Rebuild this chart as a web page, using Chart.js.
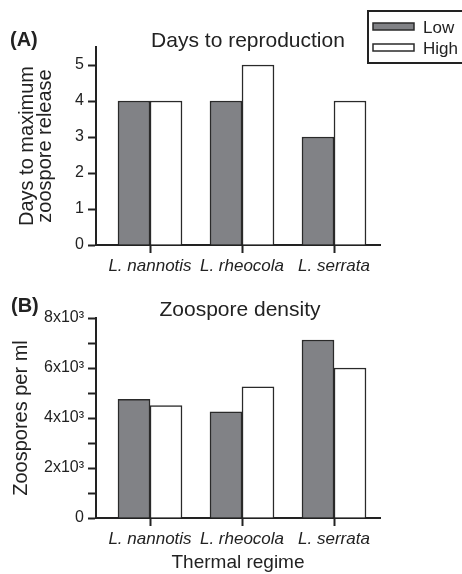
<!DOCTYPE html>
<html><head><meta charset="utf-8">
<script src="https://cdn.jsdelivr.net/npm/chart.js@4.4.0/dist/chart.umd.min.js"></script>
<style>
html,body{margin:0;padding:0;background:#fff;}
#wrap{position:relative;width:462px;height:574px;overflow:hidden;background:#fff;}
canvas{position:absolute;left:0;}
#cA{top:0;width:462px;height:290px;}
#cB{top:290px;width:462px;height:284px;}
</style></head><body>
<div id="wrap"><canvas id="cA" width="462" height="290"></canvas><canvas id="cB" width="462" height="284"></canvas></div>
<script>
// ---- data ----
const categories = ['L. nannotis', 'L. rheocola', 'L. serrata'];
const seriesNames = ['Low', 'High'];
const daysLow = [4, 4, 3];
const daysHigh = [4, 5, 4];
const densityLow = [4750, 4250, 7120];
const densityHigh = [4500, 5250, 6000];
const daysTicks = [0, 1, 2, 3, 4, 5];
const daysTickLabels = ['0', '1', '2', '3', '4', '5'];
const densityTicks = [0, 1000, 2000, 3000, 4000, 5000, 6000, 7000, 8000];
const densityTickLabels = ['0', '', '2x10³', '', '4x10³', '', '6x10³', '', '8x10³'];

// ---- styles ----
const FONT = "'Liberation Sans', Arial, Helvetica, sans-serif";
const INK = '#222';
const GRAY = '#818286';
const EDGE = '#2a2a2a';

function toPoints(vals) { return vals.map((v, i) => ({x: i, y: v})); }

const decorPlugin = {
  id: 'decor',
  afterDraw(chart, args, opts) {
    const ctx = chart.ctx;
    ctx.save();
    ctx.fillStyle = INK;
    ctx.textBaseline = 'alphabetic';
    ctx.font = 'bold 20px ' + FONT;
    ctx.textAlign = 'left';
    ctx.fillText(opts.letter, opts.letterX, opts.letterY);
    ctx.font = '21px ' + FONT;
    ctx.textAlign = 'center';
    ctx.fillText(opts.title, opts.titleX, opts.titleY);
    if (opts.legend) {
      const L = opts.legend;
      ctx.lineWidth = 2;
      ctx.strokeStyle = INK;
      ctx.strokeRect(L.x, L.y, L.w, L.h);
      ctx.font = '17px ' + FONT;
      ctx.textAlign = 'left';
      chart.data.datasets.forEach((ds, i) => {
        const sy = L.y + L.rowY[i];
        ctx.fillStyle = ds.backgroundColor;
        ctx.fillRect(L.x + 5, sy, 41, 7);
        ctx.lineWidth = 1.5;
        ctx.strokeStyle = EDGE;
        ctx.strokeRect(L.x + 5, sy, 41, 7);
        ctx.fillStyle = INK;
        ctx.fillText(ds.label, L.x + 55, sy + 10);
      });
    }
    ctx.restore();
  }
};

function makeChart(canvasId, low, high, yMax, yTicks, yTickLabels, yTitle, cfg) {
  const H = cfg.height;
  return new Chart(document.getElementById(canvasId), {
    type: 'bar',
    data: {
      datasets: [
        {label: seriesNames[0], data: toPoints(low), backgroundColor: GRAY, borderColor: EDGE, borderWidth: 1.5, borderSkipped: 'bottom', barThickness: 32},
        {label: seriesNames[1], data: toPoints(high), backgroundColor: '#ffffff', borderColor: EDGE, borderWidth: 1.5, borderSkipped: 'bottom', barThickness: 32}
      ]
    },
    plugins: [decorPlugin],
    options: {
      responsive: false,
      animation: false,
      devicePixelRatio: 1,
      layout: {padding: {left: 0, right: 82, top: cfg.top, bottom: 0}},
      plugins: {
        legend: {display: false},
        title: {display: false},
        tooltip: {enabled: false},
        decor: cfg.decor
      },
      scales: {
        x: {
          type: 'linear',
          offset: false,
          min: -0.587,
          max: 2.5,
          afterBuildTicks: s => { s.ticks = categories.map((c, i) => ({value: i})); },
          afterFit: s => { s.height = H - cfg.bottom; },
          ticks: {
            callback: v => categories[v] !== undefined ? categories[v] : '',
            font: {family: FONT, size: 17, style: 'italic'},
            color: INK, padding: 3, autoSkip: false, maxRotation: 0
          },
          grid: {display: true, offset: false, drawOnChartArea: false, drawTicks: true, tickLength: 8, tickColor: INK, tickWidth: 2},
          border: {display: true, color: INK, width: 2},
          title: cfg.xTitle ? {display: true, text: cfg.xTitle, color: INK, font: {family: FONT, size: 19, lineHeight: 1.2}, padding: {top: 0, bottom: 0}} : {display: false}
        },
        y: {
          min: 0,
          max: yMax,
          afterBuildTicks: s => { s.ticks = yTicks.map(v => ({value: v})); },
          afterFit: s => { s.width = 96; },
          ticks: {
            callback: (v, i) => yTickLabels[i],
            font: {family: FONT, size: 16},
            color: INK, padding: 4, autoSkip: false
          },
          grid: {display: true, drawOnChartArea: false, drawTicks: true, tickLength: 8, tickColor: INK, tickWidth: 2},
          border: {display: true, color: INK, width: 2},
          title: {display: true, text: yTitle, color: INK, font: {family: FONT, size: 20, lineHeight: 0.9}, padding: {top: cfg.yTitlePad, bottom: 0}}
        }
      }
    }
  });
}

makeChart('cA', daysLow, daysHigh, 5.5, daysTicks, daysTickLabels, ['Days to maximum', 'zoospore release'], {
  height: 290, top: 47, bottom: 245, yTitlePad: 18,
  decor: {letter: '(A)', letterX: 10, letterY: 46, title: 'Days to reproduction', titleX: 248, titleY: 47,
    legend: {x: 368, y: 11, w: 110, h: 52, rowY: [12, 33]}}
});

makeChart('cB', densityLow, densityHigh, 8000, densityTicks, densityTickLabels, 'Zoospores per ml', {
  height: 284, top: 28, bottom: 228, yTitlePad: 12, xTitle: 'Thermal regime',
  decor: {letter: '(B)', letterX: 11, letterY: 22, title: 'Zoospore density', titleX: 240, titleY: 26}
});
</script>
</body></html>
